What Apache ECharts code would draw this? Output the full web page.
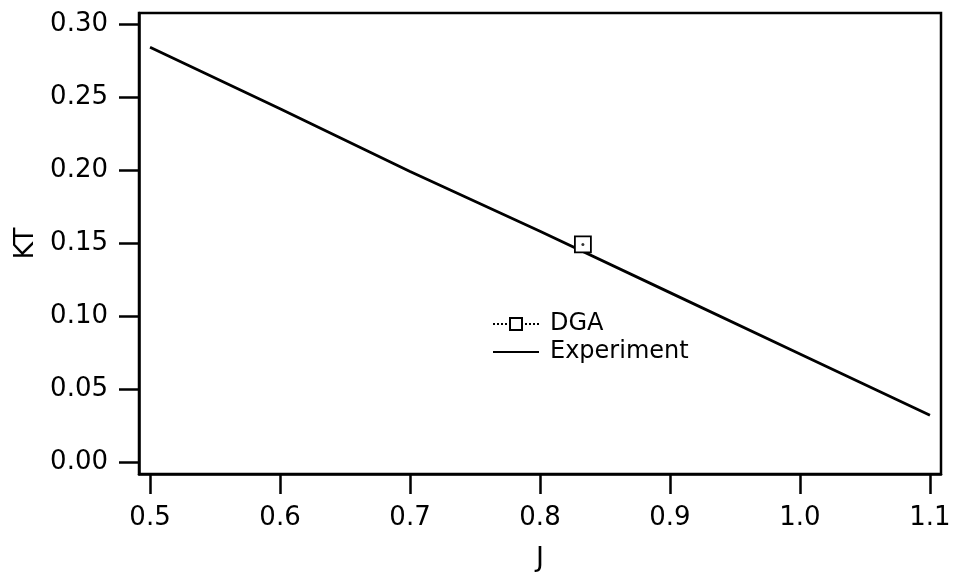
<!DOCTYPE html>
<html>
<head>
<meta charset="utf-8">
<title>KT vs J</title>
<script src="https://cdn.jsdelivr.net/npm/echarts@6/dist/echarts.min.js"></script>
<style>
  html, body { margin: 0; padding: 0; background: #fff; }
  #chart { width: 955px; height: 572px; }
</style>
</head>
<body>
<div id="chart"></div>
<script>
// Experimental KT curve sampled along J
const jValues = [0.5, 0.6, 0.7, 0.8, 0.9, 1.0, 1.1];
const ktExperiment = [0.284, 0.242, 0.199, 0.158, 0.116, 0.074, 0.032];

// DGA result
const dgaJ = [0.833];
const dgaKT = [0.149];

// Tick positions
const xTicks = [0.5, 0.6, 0.7, 0.8, 0.9, 1.0, 1.1];
const yTicks = [0.00, 0.05, 0.10, 0.15, 0.20, 0.25, 0.30];

const FONT = "'DejaVu Sans', 'Liberation Sans', Arial, sans-serif";

const experimentData = jValues.map((j, i) => [j, ktExperiment[i]]);
const dgaData = dgaJ.map((j, i) => [j, dgaKT[i]]);

const chart = echarts.init(document.getElementById('chart'), null, { renderer: 'canvas' });

chart.setOption({
  animation: false,
  backgroundColor: '#fff',
  textStyle: { fontFamily: FONT, color: '#000' },
  grid: {
    left: 139, right: 14, top: 13, bottom: 98,
    outerBoundsMode: 'none',
    containLabel: false,
    show: true, borderColor: '#000', borderWidth: 2.5, backgroundColor: 'transparent'
  },
  legend: {
    orient: 'vertical',
    left: 487,
    top: 307,
    itemWidth: 46,
    itemHeight: 15,
    itemGap: 4,
    data: [
      { name: 'DGA' },
      { name: 'Experiment', itemStyle: { opacity: 0 } }
    ],
    textStyle: { fontFamily: FONT, fontSize: 24, color: '#000', padding: [0, 0, 0, 6] }
  },
  xAxis: {
    type: 'value',
    min: 0.4915,
    max: 1.1085,
    name: 'J',
    nameLocation: 'middle',
    nameGap: 71,
    nameTextStyle: { fontFamily: FONT, fontSize: 27, color: '#000' },
    axisLine: { show: true, onZero: false, lineStyle: { color: '#000', width: 2.5 } },
    axisTick: { show: true, inside: false, length: 20, customValues: xTicks, lineStyle: { color: '#000', width: 2.5 } },
    axisLabel: {
      customValues: xTicks,
      margin: 31,
      fontFamily: FONT, fontSize: 26, color: '#000',
      formatter: v => v.toFixed(1)
    },
    splitLine: { show: false }
  },
  yAxis: {
    type: 'value',
    min: -0.0082,
    max: 0.3075,
    name: 'KT',
    nameLocation: 'middle',
    nameGap: 100,
    nameRotate: 90,
    nameTextStyle: { fontFamily: FONT, fontSize: 27, color: '#000' },
    axisLine: { show: true, onZero: false, lineStyle: { color: '#000', width: 2.5 } },
    axisTick: { show: true, inside: false, length: 20, customValues: yTicks, lineStyle: { color: '#000', width: 2.5 } },
    axisLabel: {
      customValues: yTicks,
      margin: 31,
      fontFamily: FONT, fontSize: 26, color: '#000',
      formatter: v => v.toFixed(2)
    },
    splitLine: { show: false }
  },
  series: [
    {
      name: 'Experiment',
      type: 'line',
      data: experimentData,
      symbol: 'none',
      lineStyle: { color: '#000', width: 2.8 },
      itemStyle: { color: '#000' },
      z: 2
    },
    {
      name: 'DGA',
      type: 'line',
      data: dgaData,
      symbol: 'rect',
      symbolSize: 16,
      showSymbol: true,
      lineStyle: { color: '#000', width: 1.5, type: 'dotted' },
      itemStyle: { color: '#fff', borderColor: '#000', borderWidth: 1.8 },
      z: 3
    },
    {
      name: 'DGA center',
      type: 'scatter',
      data: dgaData,
      symbol: 'circle',
      symbolSize: 3,
      itemStyle: { color: '#000' },
      silent: true,
      z: 4
    }
  ]
});
</script>
</body>
</html>
